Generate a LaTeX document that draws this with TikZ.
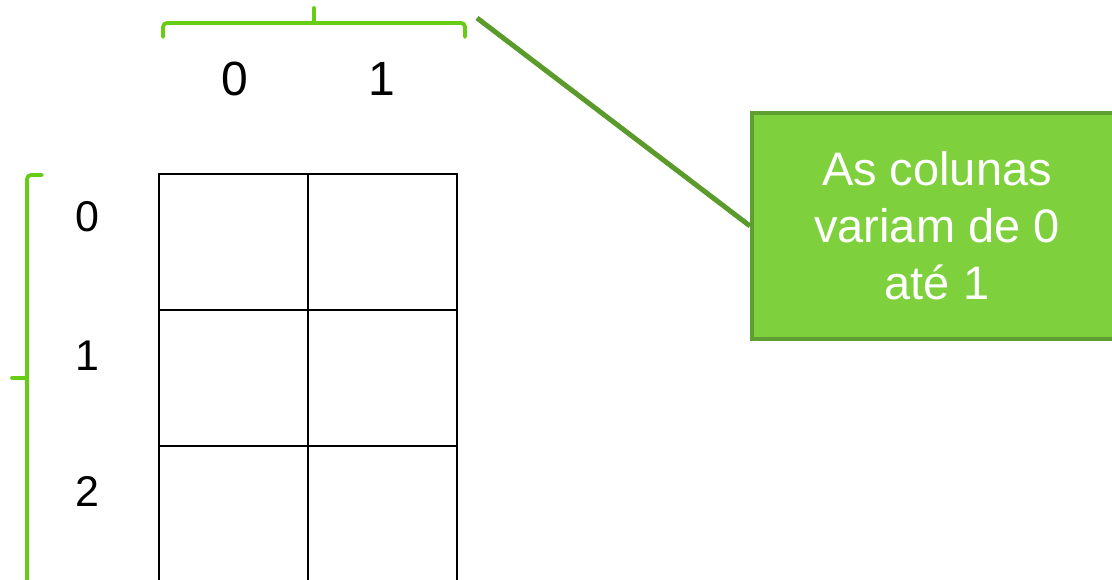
\documentclass[tikz,border=0pt]{standalone}
\usepackage{fontspec}
\setmainfont{Liberation Sans}
\definecolor{bracegreen}{HTML}{66CC14}
\definecolor{linegreen}{HTML}{5A9B2C}
\definecolor{boxfill}{HTML}{7ED13C}
\definecolor{boxborder}{HTML}{5F9E31}
\tikzset{
  cell/.style={draw=black, line width=2.6pt, minimum width=149pt, minimum height=136pt, inner sep=0pt, outer sep=0pt},
  brace/.style={draw=bracegreen, line width=3.8pt, rounded corners=4pt, line cap=round},
  collab/.style={font=\fontsize{48}{56}\selectfont, inner sep=0pt},
  rowlab/.style={font=\fontsize{43}{50}\selectfont, inner sep=0pt},
  callout/.style={fill=boxfill, draw=boxborder, line width=4pt, minimum width=370pt, minimum height=226pt, align=center, text=white, font=\fontsize{47}{57}\selectfont},
  connector/.style={draw=linegreen, line width=5pt}
}
\begin{document}
\begin{tikzpicture}[x=1pt,y=-1pt]
\useasboundingbox (0,0) rectangle (1112,580);
\clip (0,0) rectangle (1112,580);
% grid cells
\node[cell] (c00) at (233.5,242) {};
\node[cell] (c01) at (382.5,242) {};
\node[cell] (c10) at (233.5,378) {};
\node[cell] (c11) at (382.5,378) {};
\node[cell] (c20) at (233.5,514) {};
\node[cell] (c21) at (382.5,514) {};
% column labels
\node[collab] (col0) at (235,79) {0};
\node[collab] (col1) at (382,79) {1};
% row labels
\node[rowlab] (row0) at (87,217) {0};
\node[rowlab] (row1) at (87,356) {1};
\node[rowlab] (row2) at (87,491) {2};
% top brace
\draw[brace] (163,37) -- (163,23) -- (314,23);
\draw[brace] (465,37) -- (465,23) -- (314,23);
\draw[bracegreen, line width=3.8pt, line cap=round] (314,23) -- (314,8);
% left brace
\draw[brace] (42,175) -- (27,175) -- (27,595) -- (42,595);
\draw[bracegreen, line width=3.8pt, line cap=round] (27,378) -- (12,378);
% callout
\node[callout] (box) at (937,226) {As colunas\\variam de 0\\até 1};
\coordinate (tip) at (477,18);
\draw[connector] (tip) -- (box.west);
\end{tikzpicture}
\end{document}
